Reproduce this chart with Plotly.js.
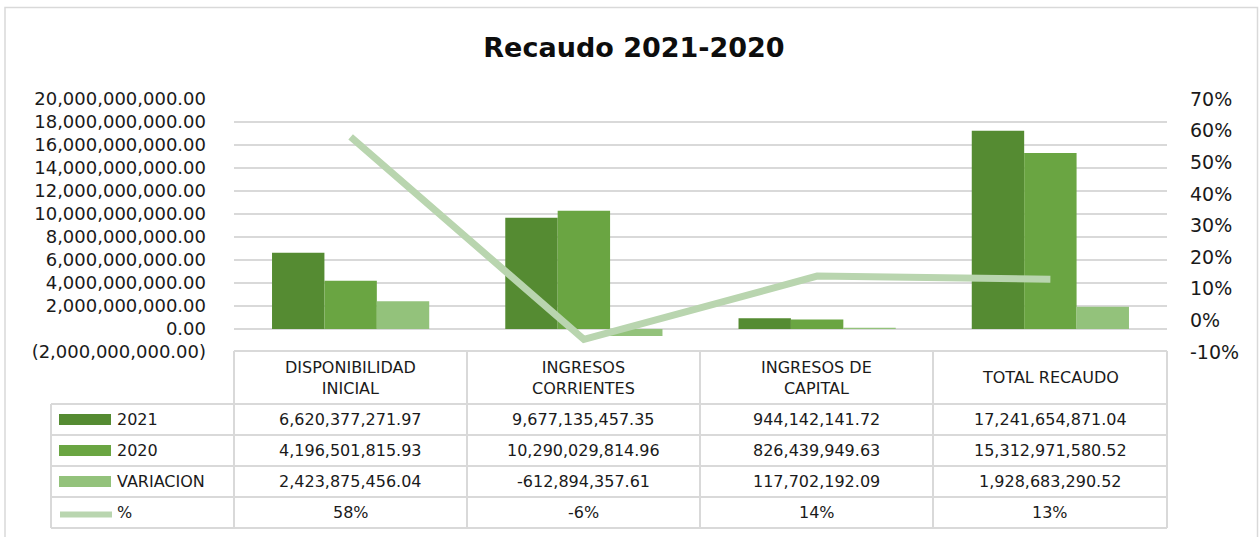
<!DOCTYPE html>
<html>
<head>
<meta charset="utf-8">
<script src="https://cdn.plot.ly/plotly-3.0.1.min.js"></script>
<style>html,body{margin:0;padding:0;background:#fff;}#chart{width:1259px;height:537px;}</style>
</head>
<body>
<div id="chart"></div>
<script>
// ---- data ----
const categories = ['DISPONIBILIDAD<br>INICIAL', 'INGRESOS<br>CORRIENTES', 'INGRESOS DE<br>CAPITAL', 'TOTAL RECAUDO'];
const seriesNames = ['2021', '2020', 'VARIACION', '%'];
const values2021 = [6620377271.97, 9677135457.35, 944142141.72, 17241654871.04];
const values2020 = [4196501815.93, 10290029814.96, 826439949.63, 15312971580.52];
const variacion = [2423875456.04, -612894357.61, 117702192.09, 1928683290.52];
const pct = [0.58, -0.06, 0.14, 0.13];
const leftTicks = [-2e9, 0, 2e9, 4e9, 6e9, 8e9, 10e9, 12e9, 14e9, 16e9, 18e9, 20e9];
const rightTicks = [-0.1, 0, 0.1, 0.2, 0.3, 0.4, 0.5, 0.6, 0.7];

// ---- style ----
const W = 1259, H = 537;
const L = 234, R = 1167, T = 99, B = 352;
const colors = ['#558b32', '#6aa542', '#93c27b', '#b9d5af'];
const grid = '#d9d9d9';
const FONT = 'DejaVu Sans, sans-serif';
const TXT = '#1a1a1a';

const fmtNum = v => v.toLocaleString('en-US', {minimumFractionDigits: 2, maximumFractionDigits: 2});
const fmtAxis = v => v < 0 ? '(' + fmtNum(-v) + ')' : fmtNum(v);
const fmtPct = v => Math.round(v * 100) + '%';

const px = x => (x - L) / (R - L);
const py = y => (B - y) / (B - T);

const traces = [
  {type: 'bar', name: seriesNames[0], x: categories, y: values2021, marker: {color: colors[0]}, hoverinfo: 'skip'},
  {type: 'bar', name: seriesNames[1], x: categories, y: values2020, marker: {color: colors[1]}, hoverinfo: 'skip'},
  {type: 'bar', name: seriesNames[2], x: categories, y: variacion, marker: {color: colors[2]}, hoverinfo: 'skip'},
  {type: 'scatter', mode: 'lines', name: seriesNames[3], x: categories, y: pct, yaxis: 'y2',
   line: {color: colors[3], width: 7}, hoverinfo: 'skip'}
];

// ---- data table (drawn below the plot) ----
const shapes = [];
const annotations = [];
const line = (x0, y0, x1, y1) => shapes.push({type: 'line', xref: 'paper', yref: 'paper',
  x0: px(x0), y0: py(y0), x1: px(x1), y1: py(y1), line: {color: grid, width: 2}});

const colX = [234, 467, 700, 933, 1167];
const rowY = [351, 404, 435, 466, 497, 528];
const tableLeft = 51;
line(colX[0], rowY[0], colX[4], rowY[0]);
for (let i = 1; i < rowY.length; i++) line(tableLeft, rowY[i], colX[4], rowY[i]);
for (const cx of colX) line(cx, rowY[0], cx, rowY[5]);
line(tableLeft, rowY[1], tableLeft, rowY[5]);

// chart outer border
shapes.push({type: 'rect', xref: 'paper', yref: 'paper', x0: px(5), y0: py(545), x1: px(1257.5), y1: py(7.5),
  line: {color: grid, width: 1.5}, layer: 'below'});

const rows = [values2021, values2020, variacion, pct];
categories.forEach((c, j) => {
  const cx = (colX[j] + colX[j + 1]) / 2;
  annotations.push({xref: 'paper', yref: 'paper', x: px(cx), y: py((rowY[0] + rowY[1]) / 2),
    text: c, showarrow: false, xanchor: 'center', yanchor: 'middle',
    font: {family: FONT, size: 16, color: TXT}});
  rows.forEach((r, i) => {
    annotations.push({xref: 'paper', yref: 'paper', x: px(cx), y: py((rowY[i + 1] + rowY[i + 2]) / 2),
      text: i === 3 ? fmtPct(r[j]) : fmtNum(r[j]), showarrow: false, xanchor: 'center', yanchor: 'middle',
      font: {family: FONT, size: 16, color: TXT}});
  });
});
seriesNames.forEach((n, i) => {
  const cy = (rowY[i + 1] + rowY[i + 2]) / 2;
  if (i < 3) {
    shapes.push({type: 'rect', xref: 'paper', yref: 'paper', x0: px(59), x1: px(111),
      y0: py(cy - 5.5), y1: py(cy + 5.5), fillcolor: colors[i], line: {width: 0}});
  } else {
    shapes.push({type: 'line', xref: 'paper', yref: 'paper', x0: px(60), x1: px(112),
      y0: py(cy + 2), y1: py(cy + 2), line: {color: colors[3], width: 6}});
  }
  annotations.push({xref: 'paper', yref: 'paper', x: px(115), y: py(cy),
    text: n, showarrow: false, xanchor: 'left', yanchor: 'middle',
    font: {family: FONT, size: 16, color: TXT}});
});

const layout = {
  width: W, height: H,
  margin: {l: L, r: W - R, t: T, b: H - B, pad: 0},
  paper_bgcolor: '#fff', plot_bgcolor: '#fff',
  showlegend: false,
  barmode: 'group', bargap: 0.326, bargroupgap: 0,
  title: {text: '<b>Recaudo 2021-2020</b>', x: 634 / W, xref: 'container', xanchor: 'center',
    y: 1 - 48 / H, yref: 'container', yanchor: 'middle',
    font: {family: FONT, size: 27, color: '#0d0d0d'}},
  xaxis: {type: 'category', range: [-0.5, 3.5], showticklabels: false, showgrid: false,
    zeroline: false, showline: false, fixedrange: true},
  yaxis: {range: [-2e9, 20e9], tickmode: 'array', tickvals: leftTicks, ticktext: leftTicks.map(fmtAxis),
    showgrid: true, gridcolor: grid, gridwidth: 1.5, zeroline: true, zerolinecolor: grid, zerolinewidth: 1.5,
    showline: false, ticks: '', ticklabelstandoff: 27,
    tickfont: {family: FONT, size: 18, color: TXT}, fixedrange: true},
  yaxis2: {range: [-0.1, 0.7], overlaying: 'y', side: 'right', tickmode: 'array', tickvals: rightTicks,
    ticktext: rightTicks.map(fmtPct), showgrid: false, zeroline: false, showline: false, ticks: '',
    ticklabelstandoff: 22, tickfont: {family: FONT, size: 19, color: TXT}, fixedrange: true},
  shapes: shapes,
  annotations: annotations
};

Plotly.newPlot('chart', traces, layout, {displayModeBar: false, staticPlot: true});
</script>
</body>
</html>
